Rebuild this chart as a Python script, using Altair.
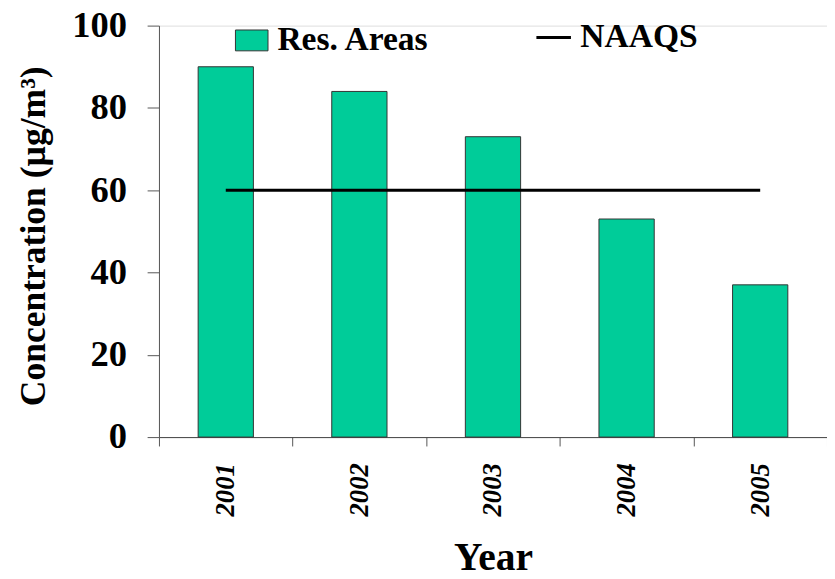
import altair as alt
import pandas as pd

years = ["2001", "2002", "2003", "2004", "2005"]
res_areas = [90, 84, 73, 53, 37]
naaqs = [60, 60, 60, 60, 60]
y_ticks = [0, 20, 40, 60, 80, 100]

FONT = "Liberation Serif"
W, H = 677, 417

df = pd.DataFrame({
    "Year": years,
    "Res": res_areas,
    "NAAQS": naaqs,
    "s1": ["Res. Areas"] * len(years),
    "s2": ["NAAQS"] * len(years),
})

x_enc = alt.X(
    "Year:N",
    scale=alt.Scale(paddingInner=0, paddingOuter=0),
    axis=alt.Axis(
        title="Year",
        tickBand="extent",
        labelAngle=270,
        labelFont=FONT,
        labelFontSize=27,
        labelFontWeight="bold",
        labelFontStyle="italic",
        labelColor="black",
        labelPadding=17,
        tickSize=9,
        tickColor="#555",
        domainColor="#444",
        titleFont=FONT,
        titleFontSize=40,
        titleFontWeight="bold",
        titleColor="black",
        titleX=W / 2,
        titleY=134,
        titleAlign="center",
        titleBaseline="alphabetic",
    ),
)

y_axis = alt.Axis(
    values=y_ticks,
    title="Concentration (µg/m³)",
    grid=False,
    tickSize=12,
    tickColor="#555",
    domainColor="#555",
    labelFont=FONT,
    labelFontSize=37,
    labelFontWeight="bold",
    labelColor="black",
    labelPadding=21,
    titleFont=FONT,
    titleFontSize=36,
    titleFontWeight="bold",
    titleColor="black",
    titleAngle=270,
    titleX=-127,
    titleY=213,
    titleAlign="center",
    titleBaseline="middle",
)

bars = alt.Chart(df).mark_bar(size=56, stroke="#333", strokeWidth=1).encode(
    x=x_enc,
    y=alt.Y("Res:Q", scale=alt.Scale(domain=[0, 100]), axis=y_axis),
    fill=alt.Fill(
        "s1:N",
        scale=alt.Scale(domain=["Res. Areas"], range=["#00CC99"]),
        legend=alt.Legend(
            title=None,
            orient="none",
            legendX=77,
            legendY=-2,
            padding=0,
            symbolType="M-1,-0.64H1V0.64H-1Z",
            symbolSize=1089,
            symbolStrokeColor="#333",
            symbolStrokeWidth=1,
            labelFont=FONT,
            labelFontSize=34,
            labelFontWeight="bold",
            labelColor="black",
            labelOffset=9,
        ),
    ),
)

line = alt.Chart(df).mark_line(strokeWidth=3).encode(
    x=alt.X("Year:N"),
    y=alt.Y("NAAQS:Q"),
    stroke=alt.Stroke(
        "s2:N",
        scale=alt.Scale(domain=["NAAQS"], range=["black"]),
        legend=alt.Legend(
            title=None,
            orient="none",
            legendX=381,
            legendY=-7,
            padding=0,
            symbolType="stroke",
            symbolSize=1225,
            symbolStrokeWidth=3,
            labelFont=FONT,
            labelFontSize=34,
            labelFontWeight="bold",
            labelColor="black",
            labelOffset=8,
        ),
    ),
)

chart = alt.layer(bars, line).resolve_scale(fill="independent", stroke="independent").properties(
    width=W,
    height=H,
    autosize=alt.AutoSizeParams(type="none"),
    padding={"left": 153, "top": 14, "right": 0, "bottom": 142},
).configure_view(stroke=None).configure(background="white")

chart.save("out.html", embed_options={"renderer": "svg", "actions": False})
